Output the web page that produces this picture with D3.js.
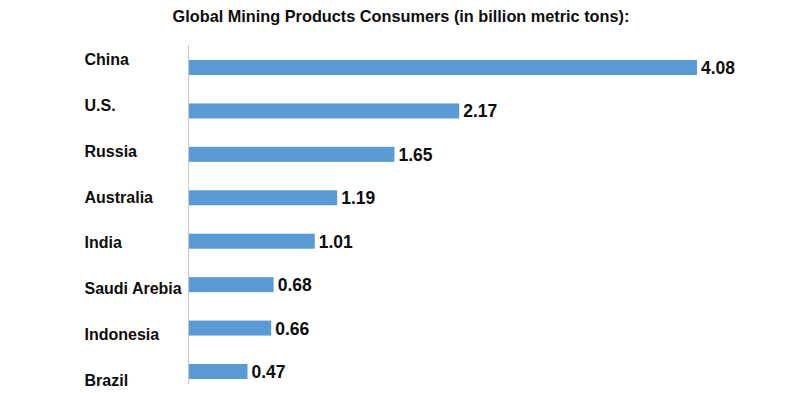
<!DOCTYPE html>
<html><head><meta charset="utf-8">
<script src="https://cdn.jsdelivr.net/npm/d3@7"></script>
<style>body{margin:0;background:#fff}svg{display:block}text{font-family:"Liberation Sans",Arial,sans-serif;font-weight:bold;fill:#0d0d0d}</style>
</head><body><svg id="c" width="791" height="393"></svg>
<script>
const title = "Global Mining Products Consumers (in billion metric tons):";
const categories = ["China","U.S.","Russia","Australia","India","Saudi Arebia","Indonesia","Brazil"];
const values = [4.08,2.17,1.65,1.19,1.01,0.68,0.66,0.47];

const svg = d3.select("#c");
const x = d3.scaleLinear().domain([0, 4.08]).range([189, 697]);
const yBar = d3.scalePoint().domain(categories).range([67.5, 371.5]);
const yLab = d3.scalePoint().domain(categories).range([65, 386]);

svg.append("text").attr("x", 401).attr("y", 22).attr("text-anchor","middle")
  .style("font-size","16.3px").text(title);

svg.append("line").attr("x1",188.5).attr("x2",188.5).attr("y1",45).attr("y2",384)
  .attr("stroke","#c8c8c8").attr("stroke-width",1);

const bh = 15;
svg.selectAll("rect.bar").data(values).join("rect").attr("class","bar")
  .attr("x", x(0)).attr("y",(d,i)=>yBar(categories[i])-bh/2)
  .attr("width", d=>x(d)-x(0)).attr("height", bh).attr("fill","#5b9bd5");

svg.selectAll("text.val").data(values).join("text").attr("class","val")
  .attr("x", d=>x(d)+4).attr("y",(d,i)=>yBar(categories[i])+6.5)
  .style("font-size","17.5px").text(d=>d.toFixed(2));

svg.selectAll("text.cat").data(categories).join("text").attr("class","cat")
  .attr("x", 84.5).attr("y", d=>yLab(d))
  .style("font-size","16px").text(d=>d);
</script></body></html>
